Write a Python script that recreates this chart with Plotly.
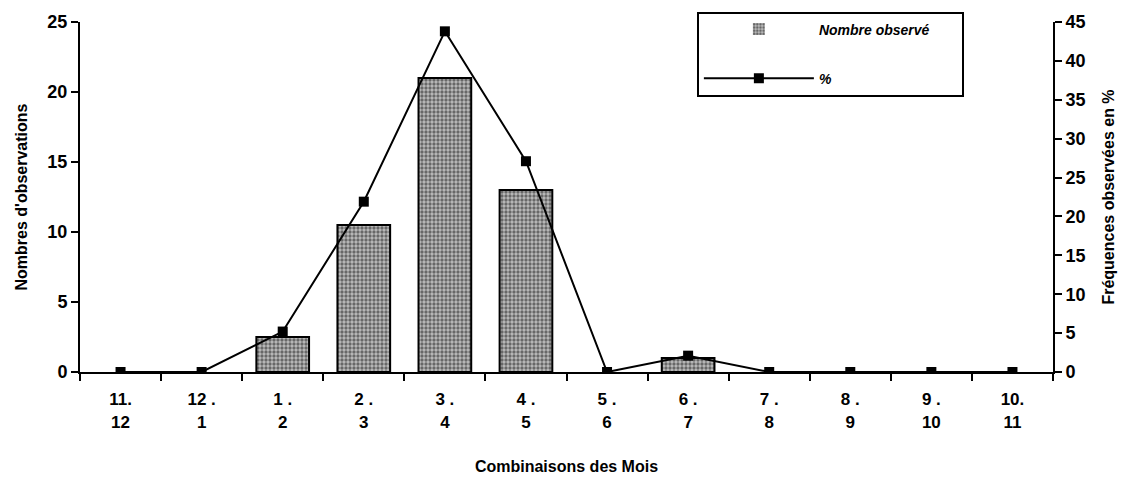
import plotly.graph_objects as go

categories = ["11.<br>12", "12 .<br>1", "1 .<br>2", "2 .<br>3", "3 .<br>4", "4 .<br>5",
              "5 .<br>6", "6 .<br>7", "7 .<br>8", "8 .<br>9", "9 .<br>10", "10.<br>11"]
nombre_observe = [0, 0, 2.5, 10.5, 21, 13, 0, 1, 0, 0, 0, 0]
pourcentage = [0, 0, 5.2, 21.9, 43.8, 27.1, 0, 2.1, 0, 0, 0, 0]

x = list(range(len(categories)))
FONT = "Liberation Sans"
BOLD = dict(family=FONT, size=16, color="black", weight="bold")

fig = go.Figure()
fig.add_trace(go.Bar(
    x=x, y=nombre_observe, name="Nombre observé" + "\u00a0" * 7, legendgroup="a",
    width=0.65,
    marker=dict(color="#999999",
                line=dict(color="black", width=[2 if v > 0 else 0 for v in nombre_observe]),
                pattern=dict(shape=".", fgcolor="#111", bgcolor="#bdbdbd", size=4, solidity=0.55)),
    yaxis="y",
))
fig.add_trace(go.Scatter(
    x=x, y=pourcentage, name="%", mode="lines+markers", legendgroup="b",
    line=dict(color="black", width=2),
    marker=dict(symbol="square", size=10, color="black"),
    yaxis="y2",
))

fig.update_layout(
    width=1129, height=480,
    margin=dict(l=80, r=76, t=20, b=108),
    paper_bgcolor="white", plot_bgcolor="white",
    font=BOLD,
    showlegend=True,
    legend=dict(x=0.634, y=1.03, xanchor="left", yanchor="top",
                bordercolor="black", borderwidth=2, bgcolor="white",
                font=dict(size=14, family=FONT, weight="bold", style="italic"),
                tracegroupgap=28, itemwidth=110,
                ),
    xaxis=dict(
        range=[-0.5, 11.5], tickmode="array", tickvals=x, ticktext=categories,
        ticks="", showline=True, linecolor="black", linewidth=2, showgrid=False,
        zeroline=False, ticklabelstandoff=11, automargin=False,
        tickfont=dict(size=17, family=FONT, weight="bold"),
        minor=dict(tick0=0.5, dtick=1, ticks="outside", ticklen=7, tickcolor="black", tickwidth=2, showgrid=False),
        title=dict(text="Combinaisons des Mois", font=BOLD, standoff=30),
    ),
    yaxis=dict(
        range=[0, 25], tickvals=[0, 5, 10, 15, 20, 25], ticks="outside", ticklen=7,
        tickwidth=2, tickcolor="black", showline=True, linecolor="black", linewidth=2,
        showgrid=False, zeroline=False, automargin=False,
        tickfont=dict(size=18, family=FONT, weight="bold"),
        title=dict(text="Nombres d'observations", font=BOLD, standoff=16),
    ),
    yaxis2=dict(
        range=[0, 45], tickvals=list(range(0, 50, 5)), ticks="outside", ticklen=7,
        tickwidth=2, tickcolor="black", showline=True, linecolor="black", linewidth=2,
        showgrid=False, zeroline=False, overlaying="y", side="right", automargin=False,
        tickfont=dict(size=18, family=FONT, weight="bold"),
        title=dict(text="Fréquences observées en %", font=BOLD, standoff=18),
    ),
)

fig.write_html("out.html")
